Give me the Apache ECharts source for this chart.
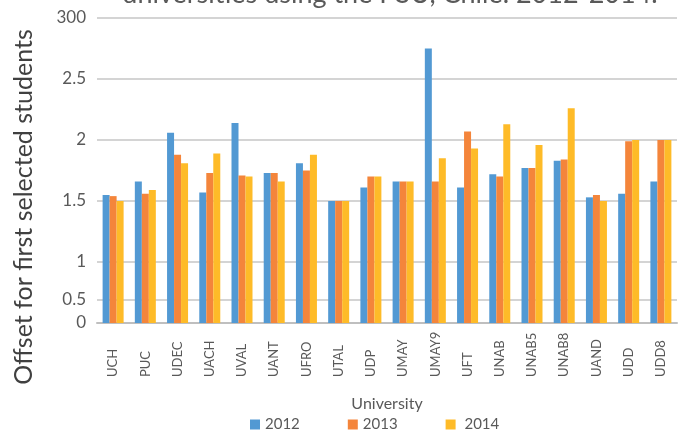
<!DOCTYPE html>
<html lang="en">
<head>
    <meta charset="UTF-8">
    <title>Offset for first selected students</title>
    <script src="https://cdn.jsdelivr.net/npm/echarts@6/dist/echarts.min.js"></script>
    <style>
        html, body { margin: 0; padding: 0; background: #fff; }
        #chart { width: 684px; height: 431px; }
    </style>
</head>
<body>
    <div id="chart"></div>
    <script>
        // data
        const universities = ['UCH', 'PUC', 'UDEC', 'UACH', 'UVAL', 'UANT', 'UFRO', 'UTAL', 'UDP',
            'UMAY', 'UMAY9', 'UFT', 'UNAB', 'UNAB5', 'UNAB8', 'UAND', 'UDD', 'UDD8'];
        const years = ['2012', '2013', '2014'];
        const values2012 = [1.55, 1.66, 2.06, 1.57, 2.14, 1.73, 1.81, 1.50, 1.61, 1.66, 2.75, 1.61, 1.72, 1.77, 1.83, 1.53, 1.56, 1.66];
        const values2013 = [1.54, 1.56, 1.88, 1.73, 1.71, 1.73, 1.75, 1.50, 1.70, 1.66, 1.66, 2.07, 1.70, 1.77, 1.84, 1.55, 1.99, 2.00];
        const values2014 = [1.50, 1.59, 1.81, 1.89, 1.70, 1.66, 1.88, 1.50, 1.70, 1.66, 1.85, 1.93, 2.13, 1.96, 2.26, 1.50, 2.00, 2.00];
        // the y axis in the original is not linear at the bottom, ticks sit here
        const yTickValues = [0.5, 0.69, 1, 1.5, 2, 2.5, 3];
        const yTickLabels = ['0', '0.5', '1', '1.5', '2', '2.5', '300'];

        const colors = ['#5299D3', '#F4853B', '#FEBB28'];
        const font = 'Lato';

        const chart = echarts.init(document.getElementById('chart'));

        const seriesData = [values2012, values2013, values2014];

        chart.setOption({
            animation: false,
            color: colors,
            textStyle: { fontFamily: font },
            grid: { left: 97, right: 7, top: 18, bottom: 108 },
            legend: {
                data: years,
                left: 245,
                top: 412,
                icon: 'rect',
                itemWidth: 10,
                itemHeight: 10,
                itemGap: 48,
                formatter: name => name === '2014' ? ' ' + name : name,
                textStyle: { color: '#595959', fontSize: 15, fontFamily: font }
            },
            graphic: [
                {
                    type: 'text',
                    x: 390, y: 8,
                    style: {
                        text: 'universities using the PSU, Chile. 2012-2014.',
                        align: 'center', verticalAlign: 'bottom',
                        font: '27px ' + font, fill: '#595959'
                    }
                },
                {
                    type: 'text',
                    x: 24, y: 207,
                    rotation: Math.PI / 2,
                    style: {
                        text: 'Offset for first selected students',
                        align: 'center', verticalAlign: 'middle',
                        font: '25px ' + font, fill: '#404040'
                    }
                }
            ],
            xAxis: {
                type: 'category',
                data: universities,
                name: 'University',
                nameLocation: 'middle',
                nameGap: 73,
                nameTextStyle: { color: '#595959', fontSize: 16, fontFamily: font },
                axisLine: { lineStyle: { color: '#bfbfbf', width: 2 } },
                axisTick: { show: false },
                axisLabel: {
                    rotate: 90,
                    align: 'left',
                    margin: 54,
                    interval: 0,
                    color: '#595959',
                    fontSize: 13,
                    fontFamily: font
                }
            },
            yAxis: {
                type: 'value',
                min: 0.5,
                max: 3,
                axisLine: { show: false },
                axisTick: { show: false, customValues: yTickValues },
                axisLabel: {
                    customValues: yTickValues,
                    margin: 11,
                    color: '#595959',
                    fontSize: 17,
                    fontFamily: font,
                    formatter: v => {
                        const i = yTickValues.findIndex(t => Math.abs(t - v) < 1e-6);
                        return i >= 0 ? yTickLabels[i] : '';
                    }
                },
                splitLine: { lineStyle: { color: '#d4d4d4', width: 2 } }
            },
            series: years.map((y, i) => ({
                name: y,
                type: 'bar',
                data: seriesData[i],
                barWidth: 7,
                barGap: '0%'
            }))
        });
    </script>
</body>
</html>
